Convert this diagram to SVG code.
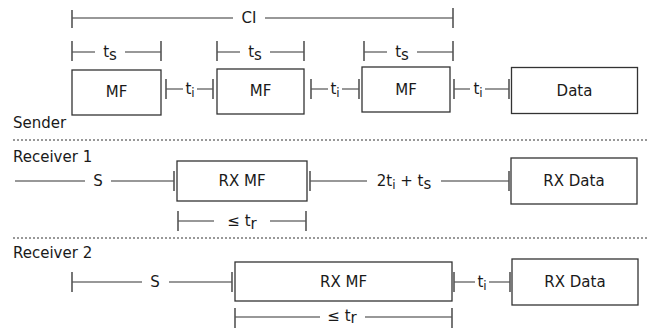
<svg xmlns="http://www.w3.org/2000/svg" width="653" height="328" viewBox="0 0 653 328">
<style>
text{font-family:"DejaVu Sans","Liberation Sans",sans-serif;font-size:15px;fill:#1a1a1a}
.c{text-anchor:middle}
.box{fill:#fff;stroke:#333;stroke-width:1.3}
.ln{stroke:#333;stroke-width:1.2;fill:none}
.tk{stroke:#555;stroke-width:1.6;fill:none}
.dash{stroke:#333;stroke-width:1;stroke-dasharray:2,2;fill:none}
</style>
<rect width="653" height="328" fill="#fff"/>
<g id="connectors">
  <path class="ln" d="M72,18H233M265,18H453"/>
  <path class="tk" d="M72,10V28M453,8V28"/>
  <path class="ln" d="M72,52H95M125,52H161M217,52H240M270,52H304M364,52H387M417,52H453"/>
  <path class="tk" d="M72,41V61M161,41V61M217,41V61M304,41V61M364,41V61M453,41V61"/>
  <path class="ln" d="M166,89H183M197,89H213M311,89H328M342,89H359M454,89H470M485,89H509"/>
  <path class="tk" d="M166,79V99M213,79V99M311,79V99M359,79V99M454,79V99M509,79V99"/>
  <path class="dash" d="M13,140H648M13,238H648"/>
  <path class="ln" d="M15,181H85M111,181H174M310,181H367M441,181H509"/>
  <path class="tk" d="M174,171V191M310,171V191M509,171V191"/>
  <path class="ln" d="M178,221H214M270,221H306"/>
  <path class="tk" d="M178,211V231M306,211V231"/>
  <path class="ln" d="M72,282H142M169,282H232M454,282H475M489,282H510"/>
  <path class="tk" d="M72,272V292M232,272V292M454,272V292M510,272V292"/>
  <path class="ln" d="M235,317H320M365,317H452"/>
  <path class="tk" d="M235,308V328M452,308V328"/>
</g>
<g id="labels">
  <text class="c" x="249" y="23">CI</text>
  <text class="c" x="110" y="57">t<tspan dy="3">s</tspan></text>
  <text class="c" x="255" y="57">t<tspan dy="3">s</tspan></text>
  <text class="c" x="402" y="57">t<tspan dy="3">s</tspan></text>
  <text class="c" x="190" y="94">t<tspan dy="3" font-size="12">i</tspan></text>
  <text class="c" x="335" y="94">t<tspan dy="3" font-size="12">i</tspan></text>
  <text class="c" x="478" y="94">t<tspan dy="3" font-size="12">i</tspan></text>
  <text x="13" y="128">Sender</text>
  <text x="13" y="162">Receiver 1</text>
  <text class="c" x="98" y="186">S</text>
  <text class="c" x="404" y="186">2t<tspan dy="3" font-size="12">i</tspan><tspan dy="-3"> + t</tspan><tspan dy="3">s</tspan></text>
  <text class="c" x="242" y="226">≤ t<tspan dy="3">r</tspan></text>
  <text x="13" y="258">Receiver 2</text>
  <text class="c" x="155" y="287">S</text>
  <text class="c" x="482" y="287">t<tspan dy="3" font-size="12">i</tspan></text>
  <text class="c" x="342" y="321">≤ t<tspan dy="2">r</tspan></text>
</g>
<g id="mf1"><rect class="box" x="72" y="70" width="89" height="45"/><text class="c" x="116.5" y="97">MF</text></g>
<g id="mf2"><rect class="box" x="217" y="69" width="87" height="45"/><text class="c" x="260.5" y="96">MF</text></g>
<g id="mf3"><rect class="box" x="362" y="67" width="88" height="45"/><text class="c" x="406" y="95">MF</text></g>
<g id="data"><rect class="box" x="511.5" y="67.5" width="126" height="46"/><text class="c" x="574.5" y="96">Data</text></g>
<g id="rxmf1"><rect class="box" x="177" y="161" width="130" height="40"/><text class="c" x="242" y="186">RX MF</text></g>
<g id="rxdata1"><rect class="box" x="511" y="158" width="126" height="46"/><text class="c" x="574" y="186">RX Data</text></g>
<g id="rxmf2"><rect class="box" x="235" y="262" width="217" height="39"/><text class="c" x="343.5" y="287">RX MF</text></g>
<g id="rxdata2"><rect class="box" x="512" y="259" width="126" height="46"/><text class="c" x="575" y="287">RX Data</text></g>
</svg>
